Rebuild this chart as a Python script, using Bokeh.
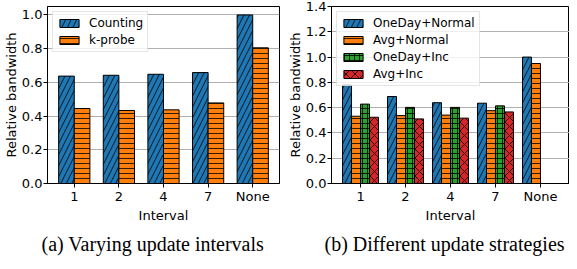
from bokeh.plotting import figure
from bokeh.layouts import row
from bokeh.models import ColumnDataSource, FactorRange, Title, PrintfTickFormatter, FixedTicker
from bokeh.transform import dodge
from bokeh.embed import file_html
from bokeh.resources import INLINE

# ---- data ----
intervals = ["1", "2", "4", "7", "None"]
counting = [0.637, 0.642, 0.648, 0.658, 1.0]
kprobe = [0.445, 0.433, 0.437, 0.478, 0.805]

oneday_normal = [0.78, 0.688, 0.639, 0.635, 1.0]
avg_normal = [0.532, 0.537, 0.541, 0.576, 0.949]
inc_intervals = ["1", "2", "4", "7"]
oneday_inc = [0.628, 0.602, 0.602, 0.614]
avg_inc = [0.524, 0.511, 0.517, 0.566]

yticks_a = [0.0, 0.2, 0.4, 0.6, 0.8, 1.0]
yticks_b = [0.0, 0.2, 0.4, 0.6, 0.8, 1.0, 1.2, 1.4]

BLUE, ORANGE, GREEN, RED = "#1f77b4", "#ff7f0e", "#2ca02c", "#d62728"
FONT = "DejaVu Sans"


def style(p, ticks, caption, cap_offset):
    p.outline_line_color = "black"
    p.outline_line_width = 1
    p.xgrid.visible = False
    p.yaxis.ticker = FixedTicker(ticks=ticks)
    p.ygrid.ticker = p.yaxis.ticker
    p.ygrid.grid_line_color = "#b0b0b0"
    p.ygrid.grid_line_width = 1
    p.yaxis.formatter = PrintfTickFormatter(format="%.1f")
    for ax in (p.xaxis, p.yaxis):
        ax.axis_line_color = "black"
        ax.major_tick_line_color = "black"
        ax.major_tick_out = 4
        ax.major_tick_in = 0
        ax.minor_tick_line_color = None
        ax.major_label_text_font = FONT
        ax.major_label_text_font_size = "13px"
        ax.major_label_text_color = "black"
        ax.major_label_standoff = 1
        ax.axis_label_text_font = FONT
        ax.axis_label_text_font_size = "13px"
        ax.axis_label_text_font_style = "normal"
        ax.axis_label_text_color = "black"
        ax.axis_label_text_line_height = 1.0
        ax.axis_label_standoff = 0
    p.xaxis.axis_label_standoff = 1
    p.xaxis.axis_label = "Interval"
    p.yaxis.axis_label = "Relative bandwidth"
    lg = p.legend[0]
    lg.location = "top_left"
    lg.margin = 5
    lg.padding = 4
    lg.spacing = 3
    lg.glyph_width = 24
    lg.glyph_height = 10
    lg.label_standoff = 8
    lg.label_text_font = FONT
    lg.label_text_font_size = "12px"
    lg.label_text_color = "black"
    lg.border_line_color = "#cccccc"
    lg.border_line_width = 1
    lg.background_fill_alpha = 0.8
    t = Title(text=caption, text_font="Liberation Serif", text_font_size="20px",
              text_font_style="normal", text_color="black", align="left",
              offset=cap_offset, standoff=11, text_line_height=1.0)
    p.add_layout(t, "below")


# ---- (a) ----
src_a = ColumnDataSource(dict(cat=intervals, counting=counting, kprobe=kprobe))
pa = figure(x_range=FactorRange(*intervals, range_padding=0.1, range_padding_units="absolute"),
            y_range=(0, 1.05), width=284, height=260, output_backend="svg",
            toolbar_location=None, min_border_left=37, min_border_right=5,
            min_border_top=1, min_border_bottom=75)
pa.vbar(x=dodge("cat", -0.175, range=pa.x_range), top="counting", width=0.35, source=src_a,
        fill_color=BLUE, line_color="black", line_width=1,
        hatch_pattern="/", hatch_color="black", hatch_scale=11, hatch_weight=0.8,
        legend_label="Counting")
pa.vbar(x=dodge("cat", 0.175, range=pa.x_range), top="kprobe", width=0.35, source=src_a,
        fill_color=ORANGE, line_color="black", line_width=1,
        hatch_pattern="-", hatch_color="black", hatch_scale=5, hatch_weight=0.8,
        legend_label="k-probe")
style(pa, yticks_a, "(a) Varying update intervals", -6)

# ---- (b) ----
src_b = ColumnDataSource(dict(cat=intervals, on=oneday_normal, an=avg_normal))
src_b2 = ColumnDataSource(dict(cat=inc_intervals, oi=oneday_inc, ai=avg_inc))
pb = figure(x_range=FactorRange(*intervals, range_padding=0.145, range_padding_units="absolute"),
            y_range=(0, 1.4), width=285, height=260, output_backend="svg",
            toolbar_location=None, min_border_left=47, min_border_right=0,
            min_border_top=6, min_border_bottom=73)
pb.vbar(x=dodge("cat", -0.3, range=pb.x_range), top="on", width=0.2, source=src_b,
        fill_color=BLUE, line_color="black", line_width=1,
        hatch_pattern="/", hatch_color="black", hatch_scale=11, hatch_weight=0.8,
        legend_label="OneDay+Normal")
pb.vbar(x=dodge("cat", -0.1, range=pb.x_range), top="an", width=0.2, source=src_b,
        fill_color=ORANGE, line_color="black", line_width=1,
        hatch_pattern="-", hatch_color="black", hatch_scale=5, hatch_weight=0.8,
        legend_label="Avg+Normal")
pb.vbar(x=dodge("cat", 0.1, range=pb.x_range), top="oi", width=0.2, source=src_b2,
        fill_color=GREEN, line_color="black", line_width=1,
        hatch_pattern="+", hatch_color="black", hatch_scale=5, hatch_weight=0.8,
        legend_label="OneDay+Inc")
pb.vbar(x=dodge("cat", 0.3, range=pb.x_range), top="ai", width=0.2, source=src_b2,
        fill_color=RED, line_color="black", line_width=1,
        hatch_pattern="x", hatch_color="black", hatch_scale=9, hatch_weight=0.8,
        legend_label="Avg+Inc")
style(pb, yticks_b, "(b) Different update strategies", -7)

layout = row(pa, pb)
open("out.html", "w").write(file_html(layout, INLINE))
